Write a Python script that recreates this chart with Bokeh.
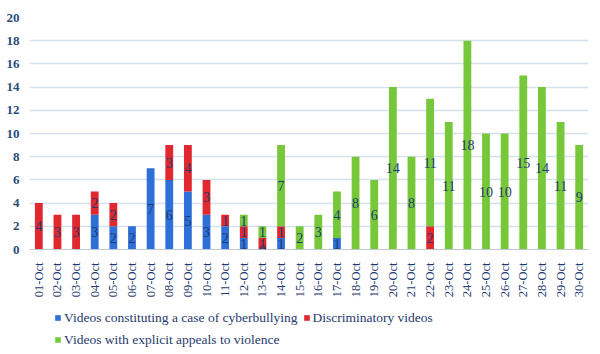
import math
from bokeh.plotting import figure
from bokeh.layouts import column
from bokeh.models import ColumnDataSource, LabelSet, Legend, LegendItem, FactorRange, SingleIntervalTicker, Range1d
from bokeh.embed import file_html
from bokeh.resources import INLINE

days = ["01-Oct", "02-Oct", "03-Oct", "04-Oct", "05-Oct", "06-Oct", "07-Oct", "08-Oct", "09-Oct", "10-Oct",
        "11-Oct", "12-Oct", "13-Oct", "14-Oct", "15-Oct", "16-Oct", "17-Oct", "18-Oct", "19-Oct", "20-Oct",
        "21-Oct", "22-Oct", "23-Oct", "24-Oct", "25-Oct", "26-Oct", "27-Oct", "28-Oct", "29-Oct", "30-Oct"]
# None = no value entered (no label); 0 = explicit zero (labelled)
cyberbullying = [None, None, None, 3, 2, 2, 7, 6, 5, 3, 2, 1, 0, 1, None, None, 1, None, None, None,
                 None, None, None, None, None, None, None, None, None, None]
discriminatory = [4, 3, 3, 2, 2, None, None, 3, 4, 3, 1, 1, 1, 1, None, None, None, None, None, None,
                  None, 2, None, None, None, None, None, None, None, None]
violence = [None, None, None, None, None, None, None, None, None, None, None, 1, 1, 7, 2, 3, 4, 8, 6, 14,
            8, 11, 11, 18, 10, 10, 15, 14, 11, 9]

series_names = ["Videos constituting a case of cyberbullying", "Discriminatory videos",
                "Videos with explicit appeals to violence"]
colors = ["#2f6fd8", "#e0282e", "#76c83a"]
FONT = "serif"
TXT = "#1f3a6e"

def z(v):
    return 0 if v is None else v

b = [z(v) for v in cyberbullying]
r = [z(v) for v in discriminatory]
g = [z(v) for v in violence]

src = ColumnDataSource(dict(day=days,
                            b0=[0] * len(days), b1=b,
                            r0=b, r1=[x + y for x, y in zip(b, r)],
                            g0=[x + y for x, y in zip(b, r)],
                            g1=[x + y + w for x, y, w in zip(b, r, g)]))

p = figure(x_range=FactorRange(*days, range_padding=0), y_range=(0, 20), width=600, height=300,
           output_backend="svg", toolbar_location=None,
           min_border_left=29, min_border_right=12, min_border_top=17, min_border_bottom=50)
p.outline_line_color = None
p.background_fill_color = "white"

rb = p.vbar(x="day", bottom="b0", top="b1", width=0.42, source=src, fill_color=colors[0], line_color=None)
rr = p.vbar(x="day", bottom="r0", top="r1", width=0.42, source=src, fill_color=colors[1], line_color=None)
rg = p.vbar(x="day", bottom="g0", top="g1", width=0.42, source=src, fill_color=colors[2], line_color=None)

# data labels
lx, ly, lt = [], [], []
for i, d in enumerate(days):
    base = 0
    for vals in (cyberbullying, discriminatory, violence):
        v = vals[i]
        if v is not None:
            lx.append(d)
            ly.append(base + v / 2)
            lt.append(str(v))
            base += v
lsrc = ColumnDataSource(dict(x=lx, y=ly, t=lt))
labels = LabelSet(x="x", y="y", text="t", source=lsrc, text_align="center", text_baseline="middle",
                  text_font=FONT, text_font_size="14px", text_color=TXT)
p.add_layout(labels)

# axes
p.yaxis.ticker = SingleIntervalTicker(interval=2)
p.yaxis.axis_line_color = None
p.yaxis.major_tick_line_color = None
p.yaxis.minor_tick_line_color = None
p.yaxis.major_label_text_font = FONT
p.yaxis.major_label_text_font_size = "13px"
p.yaxis.major_label_text_font_style = "bold"
p.yaxis.major_label_text_color = "#2a4a7a"
p.yaxis.major_label_standoff = 4

p.xaxis.axis_line_color = "#c0c8d0"
p.xaxis.major_tick_line_color = None
p.xaxis.major_label_orientation = math.pi / 2
p.xaxis.major_label_text_font = FONT
p.xaxis.major_label_text_font_size = "12.5px"
p.xaxis.major_label_text_color = TXT
p.xaxis.major_label_standoff = 7

p.xgrid.grid_line_color = None
p.ygrid.grid_line_color = "#d5e2ee"
p.ygrid.grid_line_width = 1.5

# legend in a strip below the chart (zero-height proxy bars supply the swatches)
p2 = figure(width=600, height=54, output_backend="svg", toolbar_location=None,
            x_range=Range1d(0, 1), y_range=Range1d(0, 1), min_border=0)
p2.axis.visible = False
p2.grid.visible = False
p2.outline_line_color = None
lr = [p2.vbar(x=[0], top=[0], bottom=[0], width=0.001, fill_color=c, line_color=None) for c in colors]

lg = Legend(items=[LegendItem(label=series_names[0], renderers=[lr[0]]),
                   LegendItem(label=series_names[1], renderers=[lr[1]]),
                   LegendItem(label=series_names[2], renderers=[lr[2]])],
            orientation="horizontal", ncols=2, location=(25, 6),
            label_text_font=FONT, label_text_font_size="13.5px", label_text_color=TXT,
            glyph_width=7, glyph_height=7, label_standoff=3, spacing=5, padding=0, margin=0,
            label_height=17, border_line_color=None, background_fill_alpha=0)
p2.add_layout(lg)

open("out.html", "w").write(file_html(column(p, p2, spacing=0), INLINE))
